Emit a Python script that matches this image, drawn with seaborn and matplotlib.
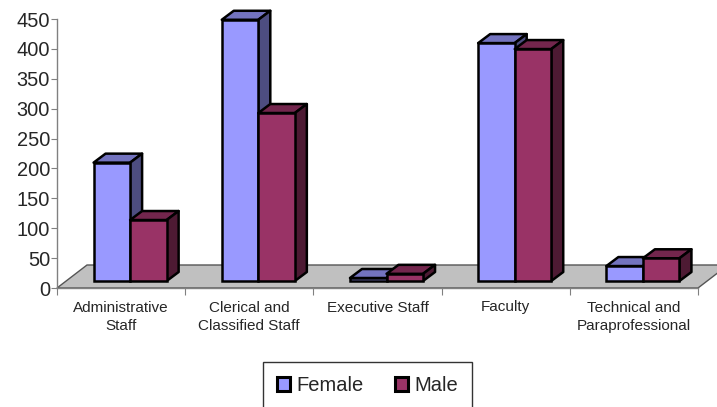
import matplotlib
matplotlib.use("Agg")
import matplotlib.pyplot as plt
import seaborn as sns
import pandas as pd
from matplotlib.patches import Polygon, Patch

categories = ["Administrative\nStaff", "Clerical and\nClassified Staff", "Executive Staff",
              "Faculty", "Technical and\nParaprofessional"]
female = [198, 437, 5, 398, 25]
male = [102, 281, 12, 388, 38]
series = ["Female", "Male"]
yticks = [0, 50, 100, 150, 200, 250, 300, 350, 400, 450]

front_colors = {"Female": "#9999FF", "Male": "#993366"}
top_colors = {"Female": "#7373BF", "Male": "#73264D"}
side_colors = {"Female": "#4D4D80", "Male": "#4D1A33"}

df = pd.DataFrame({
    "category": categories * 2,
    "value": female + male,
    "series": ["Female"] * len(categories) + ["Male"] * len(categories),
})

sns.set_style("white")
plt.rcParams["font.family"] = ["Liberation Sans", "DejaVu Sans"]

W, H = 717, 407
fig = plt.figure(figsize=(W / 100, H / 100), dpi=100)
ax = fig.add_axes([57 / W, (H - 288) / H, 641 / W, 269 / H])

ax.set_xlim(-0.5, 4.5)
ax.set_ylim(0, 450)
px_x = 5.0 / 641          # data units per pixel in x
px_y = 450 / 269          # data units per pixel in y

# floor parallelogram (depth)
fdx, fdy = 30 * px_x, 23 * px_y
floor = Polygon([(-0.5, 0), (4.5, 0), (4.5 + fdx, fdy), (-0.5 + fdx, fdy)],
                closed=True, facecolor="#C0C0C0", edgecolor="#555555", lw=1.0,
                clip_on=False, zorder=0.5)
ax.add_patch(floor)

lw = 1.8
sns.barplot(data=df, x="category", y="value", hue="series", hue_order=series,
            palette=front_colors, width=0.57, order=categories, ax=ax,
            edgecolor="black", linewidth=lw, legend=False, saturation=1)

# shift fronts to mid-depth and add top/side faces
shift_x, shift_y = 9 * px_x, 7 * px_y
ddx, ddy = 12 * px_x, 9 * px_y
bars = [p for p in ax.patches if p is not floor]
n = len(categories)
for i, p in enumerate(bars):
    s = series[i // n]
    p.set_x(p.get_x() + shift_x)
    p.set_y(p.get_y() + shift_y)
    p.set_clip_on(False)
    x0 = p.get_x(); x1 = x0 + p.get_width()
    b = p.get_y(); t = b + p.get_height()
    z = 2 + (i // n) * 2
    p.set_zorder(z)
    top = Polygon([(x0, t), (x1, t), (x1 + ddx, t + ddy), (x0 + ddx, t + ddy)], closed=True,
                  facecolor=top_colors[s], edgecolor="black", lw=lw, joinstyle="round",
                  clip_on=False, zorder=z - 0.5)
    side = Polygon([(x1, b), (x1 + ddx, b + ddy), (x1 + ddx, t + ddy), (x1, t)], closed=True,
                   facecolor=side_colors[s], edgecolor="black", lw=lw, joinstyle="round",
                   clip_on=False, zorder=z - 0.5)
    ax.add_patch(top)
    ax.add_patch(side)

# axes styling
for sp in ["top", "right"]:
    ax.spines[sp].set_visible(False)
for sp in ["left", "bottom"]:
    ax.spines[sp].set_color("#808080")
    ax.spines[sp].set_linewidth(1.0)
    ax.spines[sp].set_zorder(1)

ax.set_yticks(yticks)
ax.set_yticklabels([str(v) for v in yticks], fontsize=14.4)
ax.tick_params(axis="y", direction="out", length=4, color="#808080", pad=1, left=True)

ax.set_xticks([i - 0.5 for i in range(n + 1)])
ax.set_xticklabels([""] * (n + 1))
ax.set_xticks(list(range(n)), minor=True)
ax.set_xticklabels(categories, minor=True, fontsize=11, linespacing=1.45)
ax.tick_params(axis="x", which="major", direction="out", length=5, color="#808080", bottom=True)
ax.tick_params(axis="x", which="minor", length=0, pad=9)
ax.set_xlabel("")
ax.set_ylabel("")

# legend
handles = [Patch(facecolor=front_colors[s], edgecolor="black", lw=2.2, label=s) for s in series]
leg = fig.legend(handles=handles, loc="upper left", bbox_to_anchor=(263 / W, (H - 362) / H, 209 / W, 0.0),
                 mode="expand", ncol=2, frameon=True, fontsize=14.5, handlelength=0.65, handleheight=0.65,
                 handletextpad=0.3, columnspacing=1.5, borderaxespad=0, fancybox=False,
                 borderpad=0.7)
leg.get_frame().set_edgecolor("black")
leg.get_frame().set_linewidth(1.0)

fig.savefig("out.png", dpi=100)
